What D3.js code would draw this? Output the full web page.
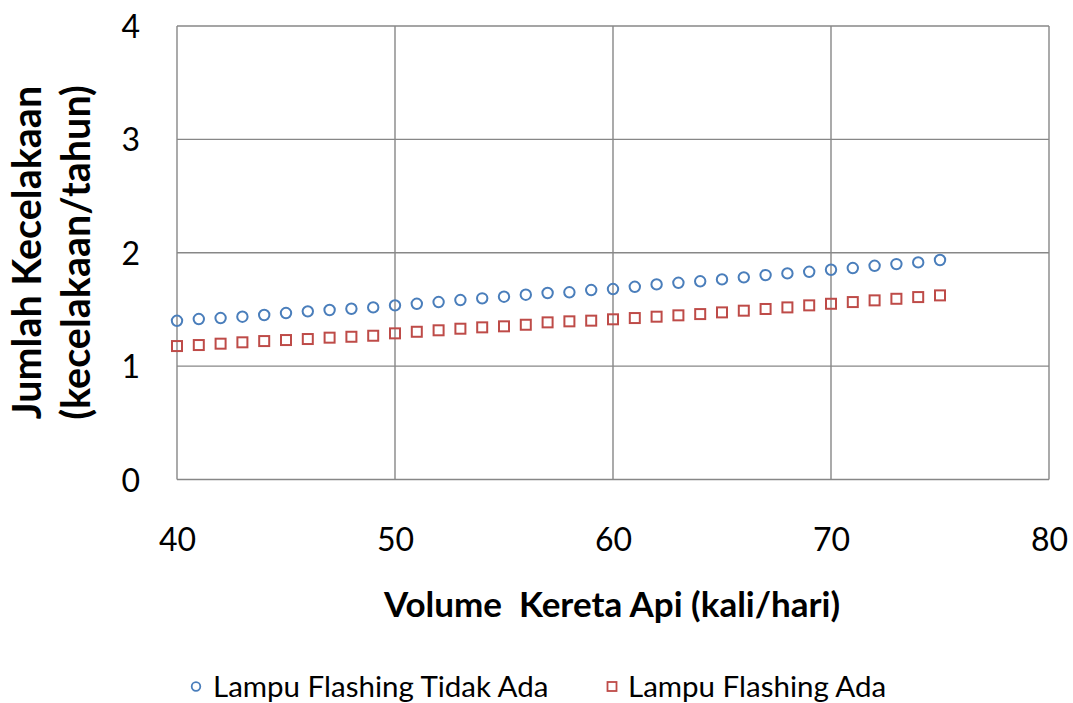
<!DOCTYPE html>
<html>
<head>
<meta charset="utf-8">
<script src="https://cdn.jsdelivr.net/npm/d3@7"></script>
<style>
  html, body { margin: 0; padding: 0; background: #ffffff; }
  svg { display: block; font-family: Lato, "Open Sans", sans-serif; }
</style>
</head>
<body>
<svg id="chart" width="1073" height="703"></svg>
<script>
// Train volume per day (x) and predicted accidents per year for each case
const volume = d3.range(40, 76);
const tanpaLampu = [
  1.400, 1.415, 1.424, 1.436, 1.451, 1.468, 1.483, 1.495, 1.506, 1.518,
  1.536, 1.550, 1.565, 1.583, 1.598, 1.612, 1.630, 1.645, 1.651, 1.671,
  1.680, 1.700, 1.721, 1.735, 1.748, 1.765, 1.783, 1.803, 1.818, 1.832,
  1.850, 1.865, 1.885, 1.900, 1.915, 1.936
];
const denganLampu = [
  1.177, 1.186, 1.198, 1.210, 1.221, 1.230, 1.239, 1.251, 1.259, 1.268,
  1.289, 1.303, 1.316, 1.330, 1.342, 1.351, 1.365, 1.386, 1.395, 1.401,
  1.413, 1.424, 1.436, 1.448, 1.459, 1.474, 1.489, 1.504, 1.518, 1.536,
  1.550, 1.565, 1.580, 1.594, 1.609, 1.624
];
const xTicks = [40, 50, 60, 70, 80];
const yTicks = [0, 1, 2, 3, 4];
const seriesNames = ["Lampu Flashing Tidak Ada", "Lampu Flashing Ada"];
const xTitle = "Volume  Kereta Api (kali/hari)";
const yTitle = ["Jumlah Kecelakaan", "(kecelakaan/tahun)"];

const blue = "#4a7ebb";
const red = "#be4b48";
const gridColor = "#878787";

const svg = d3.select("#chart");
const plot = { left: 177, right: 1049, top: 26, bottom: 479.5 };

const x = d3.scaleLinear().domain([40, 80]).range([plot.left, plot.right]);
const y = d3.scaleLinear().domain([0, 4]).range([plot.bottom, plot.top]);

// Gridlines and frame
const grid = svg.append("g").attr("stroke", gridColor).attr("stroke-width", 1.4);
grid.selectAll("line.v").data(xTicks).join("line")
  .attr("x1", d => x(d)).attr("x2", d => x(d))
  .attr("y1", plot.top).attr("y2", plot.bottom);
grid.selectAll("line.h").data(yTicks).join("line")
  .attr("x1", plot.left).attr("x2", plot.right)
  .attr("y1", d => y(d)).attr("y2", d => y(d));

// Axes (tick labels only; lines come from the grid)
const xAxis = d3.axisBottom(x).tickValues(xTicks).tickSize(0).tickPadding(0)
  .tickFormat(d3.format("d"));
const gx = svg.append("g").attr("transform", `translate(0,${plot.bottom})`).call(xAxis);
gx.select(".domain").remove();
gx.selectAll("text")
  .attr("y", 71).attr("dy", null)
  .attr("fill", "#000").style("font-size", "32px").style("font-family", "Lato");

const yAxis = d3.axisLeft(y).tickValues(yTicks).tickSize(0).tickPadding(0)
  .tickFormat(d3.format("d"));
const gy = svg.append("g").attr("transform", `translate(${plot.left},0)`).call(yAxis);
gy.select(".domain").remove();
gy.selectAll("text")
  .attr("x", -37).attr("dy", "0.36em")
  .attr("fill", "#000").style("font-size", "32px").style("font-family", "Lato");

// Axis titles
svg.append("text")
  .attr("x", 612).attr("y", 617)
  .attr("text-anchor", "middle")
  .attr("font-weight", "bold").attr("font-size", 35)
  .style("white-space", "pre")
  .text(xTitle);

const yt = svg.append("g").attr("transform", "translate(0,252.5) rotate(-90)");
yt.selectAll("text").data(yTitle).join("text")
  .attr("x", 0).attr("y", (d, i) => 41 + i * 49)
  .attr("text-anchor", "middle")
  .attr("font-weight", "bold").attr("font-size", 39.5)
  .text(d => d);

// Series markers
svg.append("g").selectAll("circle").data(volume).join("circle")
  .attr("cx", (d) => x(d)).attr("cy", (d, i) => y(tanpaLampu[i]))
  .attr("r", 5.2)
  .attr("fill", "none").attr("stroke", blue).attr("stroke-width", 2);

const sq = 10;
svg.append("g").selectAll("rect").data(volume).join("rect")
  .attr("x", (d) => x(d) - sq / 2).attr("y", (d, i) => y(denganLampu[i]) - sq / 2)
  .attr("width", sq).attr("height", sq)
  .attr("fill", "none").attr("stroke", red).attr("stroke-width", 2);

// Legend
const legend = svg.append("g");
legend.append("circle").attr("cx", 196).attr("cy", 686.5).attr("r", 4.3)
  .attr("fill", "none").attr("stroke", blue).attr("stroke-width", 1.8);
legend.append("text").attr("x", 213).attr("y", 696.5).attr("font-size", 29.5)
  .text(seriesNames[0]);
legend.append("rect").attr("x", 607.5).attr("y", 682).attr("width", 9).attr("height", 9)
  .attr("fill", "none").attr("stroke", red).attr("stroke-width", 1.8);
legend.append("text").attr("x", 628).attr("y", 696.5).attr("font-size", 29.5)
  .text(seriesNames[1]);
</script>
</body>
</html>
